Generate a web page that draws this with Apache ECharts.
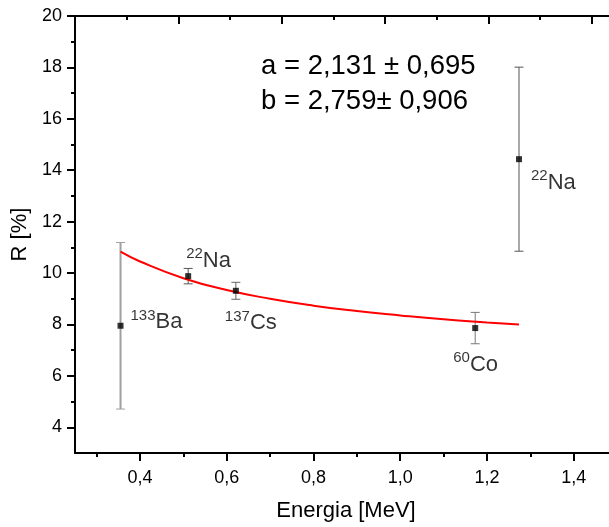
<!DOCTYPE html>
<html><head><meta charset="utf-8">
<script src="https://cdn.jsdelivr.net/npm/echarts@6/dist/echarts.min.js"></script>
<style>html,body{margin:0;padding:0;background:#fff}#c{width:609px;height:527px}</style>
</head><body><div id="c"></div>
<script>
// ---- data ----
const energy = [0.355, 0.511, 0.621, 1.173, 1.274];
const resolution = [7.95, 9.88, 9.31, 7.86, 14.43];
const errors = [3.24, 0.30, 0.33, 0.61, 3.58];
const isoMass = ['133', '22', '137', '60', '22'];
const isoElem = ['Ba', 'Na', 'Cs', 'Co', 'Na'];
const fitE = [0.355, 0.4, 0.5, 0.6, 0.7, 0.8, 0.9, 1.0, 1.1, 1.2, 1.274];
const fitR = [10.83, 10.45, 9.80, 9.34, 9.00, 8.73, 8.52, 8.35, 8.20, 8.08, 8.00];
const xTicks = [0.4, 0.6, 0.8, 1.0, 1.2, 1.4];
const xMinor = [0.3, 0.5, 0.7, 0.9, 1.1, 1.3, 1.5];
const yTicks = [4, 6, 8, 10, 12, 14, 16, 18, 20];
const yMinor = [5, 7, 9, 11, 13, 15, 17, 19];
const topTicks = [1, 2, 3, 4, 5];
const topMinor = [0.5, 1.5, 2.5, 3.5, 4.5];
const fitText = ['a = 2,131 ± 0,695', 'b = 2,759± 0,906'];

// ---- styles (not data) ----
const FONT = 'Liberation Sans, Arial, sans-serif';
const errColors = ['#a0a0a0', '#555555', '#666666', '#777777', '#555555'];
const errWidths = [2, 1, 1, 1, 1];
const labelOffsets = [[10, -5], [-2, -17], [-11, 31], [-22, 35], [12, 22]];

const chart = echarts.init(document.getElementById('c'), null, {renderer: 'canvas'});
const axLine = {show: true, lineStyle: {color: '#000', width: 2}};
const fmt = v => (+v).toFixed(1).replace('.', ',');

const option = {
  animation: false,
  backgroundColor: '#fff',
  grid: {left: 75, top: 16, width: 542, height: 437, containLabel: false, outerBoundsMode: 'none'},
  xAxis: [
    {type: 'value', min: 0.25, max: 1.5, position: 'bottom',
     axisLine: axLine, splitLine: {show: false},
     axisTick: {show: true, inside: false, length: 8, lineStyle: {color: '#000', width: 2}, customValues: xTicks},
     axisLabel: {customValues: xTicks, formatter: fmt, color: '#000', fontSize: 18, fontFamily: FONT, margin: 16},
     name: 'Energia [MeV]', nameLocation: 'middle', nameGap: 47,
     nameTextStyle: {color: '#000', fontSize: 22, fontFamily: FONT}},
    {type: 'value', min: 0.25, max: 1.5, position: 'bottom',
     axisLine: {show: false}, splitLine: {show: false}, axisLabel: {show: false},
     axisTick: {show: true, inside: false, length: 4, lineStyle: {color: '#000', width: 2}, customValues: xMinor}},
    {type: 'value', min: 0, max: 5.243, position: 'top',
     axisLine: axLine, splitLine: {show: false}, axisLabel: {show: false},
     axisTick: {show: true, inside: true, length: 8, lineStyle: {color: '#000', width: 2}, customValues: topTicks}},
    {type: 'value', min: 0, max: 5.243, position: 'top',
     axisLine: {show: false}, splitLine: {show: false}, axisLabel: {show: false},
     axisTick: {show: true, inside: true, length: 4, lineStyle: {color: '#000', width: 2}, customValues: topMinor}}
  ],
  yAxis: [
    {type: 'value', min: 3, max: 20, position: 'left',
     axisLine: axLine, splitLine: {show: false},
     axisTick: {show: true, inside: false, length: 8, lineStyle: {color: '#000', width: 2}, customValues: yTicks},
     axisLabel: {customValues: yTicks, color: '#000', fontSize: 18, fontFamily: FONT, margin: 13},
     name: 'R [%]', nameLocation: 'middle', nameGap: 33, nameRotate: 90,
     nameTextStyle: {color: '#000', fontSize: 22, fontFamily: FONT}},
    {type: 'value', min: 3, max: 20, position: 'left',
     axisLine: {show: false}, splitLine: {show: false}, axisLabel: {show: false},
     axisTick: {show: true, inside: false, length: 4, lineStyle: {color: '#000', width: 2}, customValues: yMinor}}
  ],
  series: [
    {type: 'line', xAxisIndex: 0, yAxisIndex: 0, smooth: true, showSymbol: false, symbol: 'none',
     data: fitE.map((e, i) => [e, fitR[i]]),
     lineStyle: {color: '#ff0000', width: 2}, z: 3},
    {type: 'custom', xAxisIndex: 0, yAxisIndex: 0, z: 2,
     data: energy.map((e, i) => [e, resolution[i], errors[i]]),
     renderItem: function (params, api) {
       const x = api.value(0), y = api.value(1), e = api.value(2);
       const top = api.coord([x, y + e]);
       const bot = api.coord([x, y - e]);
       const hw = 4.5;
       const st = {stroke: errColors[params.dataIndex], lineWidth: errWidths[params.dataIndex]};
       const cst = {stroke: errColors[params.dataIndex], lineWidth: 1};
       return {type: 'group', children: [
         {type: 'line', shape: {x1: top[0], y1: top[1], x2: bot[0], y2: bot[1]}, style: st},
         {type: 'line', shape: {x1: top[0] - hw, y1: top[1], x2: top[0] + hw, y2: top[1]}, style: cst},
         {type: 'line', shape: {x1: bot[0] - hw, y1: bot[1], x2: bot[0] + hw, y2: bot[1]}, style: cst}
       ]};
     }},
    {type: 'scatter', xAxisIndex: 0, yAxisIndex: 0, symbol: 'rect', symbolSize: 6, z: 4,
     itemStyle: {color: '#000'},
     data: energy.map((e, i) => ({
       value: [e, resolution[i]],
       label: {show: true, position: 'inside', align: 'left', verticalAlign: 'middle',
               offset: labelOffsets[i],
               formatter: '{sup|' + isoMass[i] + '}{main|' + isoElem[i] + '}'}
     })),
     label: {rich: {
       sup: {fontSize: 15, fontFamily: FONT, color: '#000', lineHeight: 15, verticalAlign: 'top'},
       main: {fontSize: 22, fontFamily: FONT, color: '#000', lineHeight: 25, verticalAlign: 'bottom'}
     }}}
  ],
  graphic: [
    {type: 'text', left: 261, top: 52, style: {text: fitText[0], fontSize: 27.5, fontFamily: FONT, fill: '#000'}},
    {type: 'text', left: 261, top: 87, style: {text: fitText[1], fontSize: 27.5, fontFamily: FONT, fill: '#000'}}
  ]
};
chart.setOption(option);
</script></body></html>
